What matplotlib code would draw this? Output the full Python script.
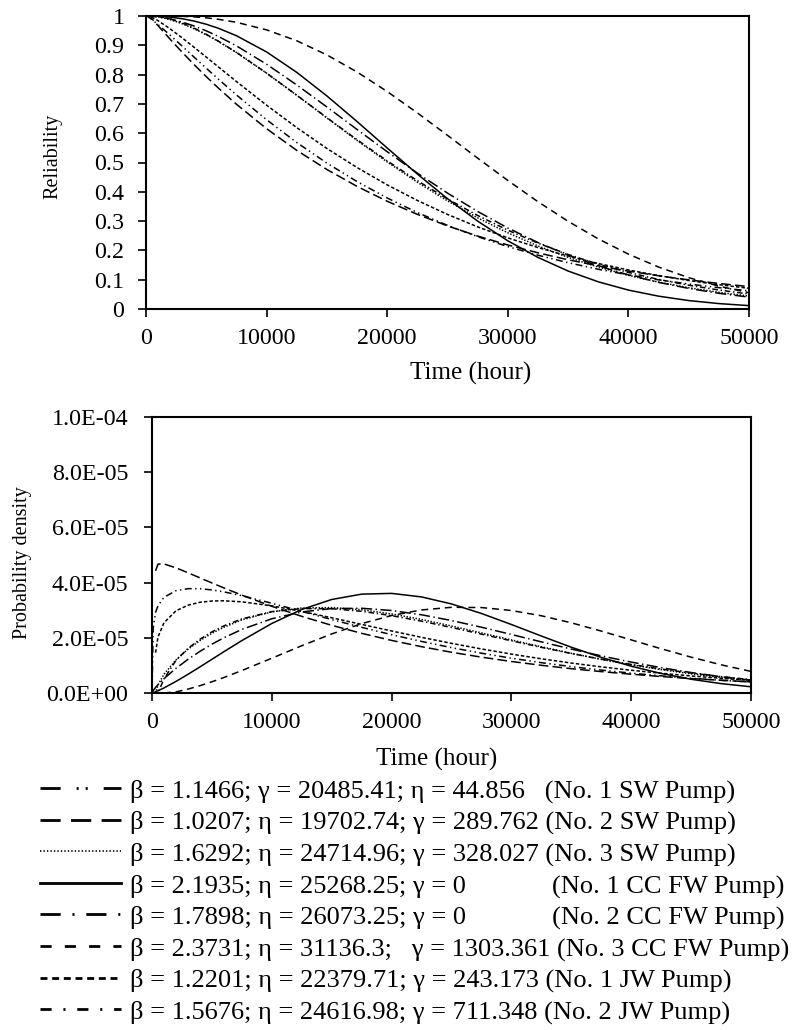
import numpy as np
import matplotlib
matplotlib.use("Agg")
import matplotlib.pyplot as plt
from matplotlib.lines import Line2D

plt.rcParams['font.family'] = ['Liberation Serif', 'DejaVu Serif']
plt.rcParams['lines.scale_dashes'] = False

# time grid (hour)
hours = [0, 100, 300, 500, 1000, 2000, 3000, 4000, 5000, 6000, 7500, 10000, 12500, 15000,
         17500, 20000, 22500, 25000, 27500, 30000, 32500, 35000, 37500, 40000, 42500,
         45000, 47500, 50000]

# reliability
rel_sw1 = [1, 0.9989, 0.9935, 0.9874, 0.9707, 0.9346, 0.8971, 0.8592, 0.8216, 0.7846, 0.7306,
           0.6459, 0.5682, 0.4980, 0.4350, 0.3789, 0.3292, 0.2854, 0.2468, 0.2131, 0.1836,
           0.1580, 0.1357, 0.1164, 0.0996, 0.0852, 0.0728, 0.0621]
rel_sw2 = [1, 1, 0.9996, 0.9903, 0.9669, 0.9208, 0.8763, 0.8337, 0.7929, 0.7540, 0.6988,
           0.6153, 0.5414, 0.4761, 0.4185, 0.3677, 0.3230, 0.2836, 0.2490, 0.2185, 0.1918,
           0.1679, 0.1475, 0.1294, 0.1134, 0.0995, 0.0872, 0.0764]
rel_sw3 = [1, 1, 1, 0.9997, 0.9972, 0.9877, 0.9737, 0.9562, 0.9359, 0.9131, 0.8753,
           0.8050, 0.7295, 0.6521, 0.5755, 0.5018, 0.4326, 0.3689, 0.3113, 0.2600, 0.2151,
           0.1762, 0.1431, 0.1151, 0.0918, 0.0726, 0.0569, 0.0442]
rel_cc1 = [1, 1, 0.9999, 0.9998, 0.9992, 0.9962, 0.9907, 0.9826, 0.9718, 0.9582, 0.9327,
           0.8773, 0.8077, 0.7272, 0.6398, 0.5495, 0.4606, 0.3765, 0.3000, 0.2329, 0.1761,
           0.1296, 0.0928, 0.0646, 0.0438, 0.0288, 0.0185, 0.0115]
rel_cc2 = [1, 1, 0.9997, 0.9992, 0.9971, 0.9900, 0.9794, 0.9657, 0.9493, 0.9304, 0.8981,
           0.8353, 0.7647, 0.6895, 0.6127, 0.5368, 0.4639, 0.3955, 0.3329, 0.2765, 0.2269,
           0.1838, 0.1471, 0.1164, 0.0909, 0.0702, 0.0536, 0.0405]
rel_cc3 = [1, 1, 1, 1, 1, 0.9999, 0.9990, 0.9970, 0.9937, 0.9888, 0.9785,
           0.9527, 0.9155, 0.8672, 0.8089, 0.7422, 0.6693, 0.5927, 0.5149, 0.4387, 0.3662,
           0.2993, 0.2394, 0.1873, 0.1432, 0.1070, 0.0780, 0.0556]
rel_jw1 = [1, 1, 0.9993, 0.9957, 0.9841, 0.9562, 0.9253, 0.8928, 0.8597, 0.8263, 0.7764,
           0.6955, 0.6190, 0.5479, 0.4828, 0.4236, 0.3704, 0.3227, 0.2803, 0.2428, 0.2097,
           0.1807, 0.1553, 0.1332, 0.1140, 0.0973, 0.0830, 0.0706]
rel_jw2 = [1, 1, 1, 1, 0.9991, 0.9902, 0.9761, 0.9583, 0.9374, 0.9142, 0.8757,
           0.8049, 0.7296, 0.6530, 0.5776, 0.5055, 0.4379, 0.3756, 0.3193, 0.2690, 0.2247,
           0.1862, 0.1530, 0.1248, 0.1010, 0.0812, 0.0648, 0.0513]

# probability density, in units of 1E-05
nan = float('nan')
pdf_sw1 = [0, 2.348, 2.923, 3.163, 3.467, 3.707, 3.780, 3.779, 3.735, 3.664, 3.526,
           3.252, 2.957, 2.662, 2.379, 2.113, 1.868, 1.644, 1.442, 1.261, 1.099,
           0.956, 0.830, 0.718, 0.621, 0.535, 0.461, 0.396]
pdf_sw2 = [nan, nan, 4.428, 4.670, 4.676, 4.535, 4.357, 4.172, 3.988, 3.807, 3.546,
           3.141, 2.777, 2.452, 2.162, 1.905, 1.678, 1.476, 1.299, 1.142, 1.004,
           0.881, 0.775, 0.680, 0.597, 0.524, 0.460, 0.403]
pdf_sw3 = [0, 0, 0, 0.289, 0.680, 1.196, 1.583, 1.899, 2.163, 2.384, 2.649,
           2.941, 3.080, 3.096, 3.017, 2.866, 2.664, 2.429, 2.178, 1.923, 1.674,
           1.438, 1.219, 1.022, 0.847, 0.694, 0.564, 0.452]
pdf_cc1 = [0, 0.012, 0.044, 0.081, 0.184, 0.419, 0.676, 0.945, 1.220, 1.496, 1.899,
           2.519, 3.027, 3.388, 3.582, 3.609, 3.481, 3.227, 2.881, 2.482, 2.064,
           1.659, 1.290, 0.971, 0.707, 0.498, 0.340, 0.225]
pdf_cc2 = [0, 0.085, 0.202, 0.302, 0.521, 0.894, 1.218, 1.508, 1.768, 2.001, 2.304,
           2.690, 2.937, 3.059, 3.070, 2.989, 2.834, 2.626, 2.383, 2.121, 1.853,
           1.592, 1.346, 1.120, 0.918, 0.742, 0.591, 0.465]
pdf_cc3 = [0, 0, 0, 0, 0, 0.041, 0.140, 0.264, 0.406, 0.561, 0.813,
           1.260, 1.713, 2.140, 2.513, 2.808, 3.009, 3.105, 3.096, 2.989, 2.798,
           2.543, 2.244, 1.924, 1.603, 1.299, 1.022, 0.783]
pdf_jw1 = [nan, nan, 1.462, 2.031, 2.546, 2.977, 3.181, 3.287, 3.333, 3.341, 3.304,
           3.158, 2.956, 2.726, 2.486, 2.247, 2.017, 1.799, 1.596, 1.409, 1.239,
           1.085, 0.947, 0.824, 0.715, 0.618, 0.533, 0.459]
pdf_jw2 = [0, 0, 0, 0, 0.510, 1.182, 1.614, 1.947, 2.214, 2.432, 2.684,
           2.948, 3.059, 3.053, 2.960, 2.803, 2.602, 2.374, 2.133, 1.891, 1.654,
           1.431, 1.224, 1.036, 0.869, 0.722, 0.594, 0.485]

labels = [
    "β = 1.1466; γ = 20485.41; η = 44.856   (No. 1 SW Pump)",
    "β = 1.0207; η = 19702.74; γ = 289.762 (No. 2 SW Pump)",
    "β = 1.6292; η = 24714.96; γ = 328.027 (No. 3 SW Pump)",
    "β = 2.1935; η = 25268.25; γ = 0             (No. 1 CC FW Pump)",
    "β = 1.7898; η = 26073.25; γ = 0             (No. 2 CC FW Pump)",
    "β = 2.3731; η = 31136.3;   γ = 1303.361 (No. 3 CC FW Pump)",
    "β = 1.2201; η = 22379.71; γ = 243.173 (No. 1 JW Pump)",
    "β = 1.5676; η = 24616.98; γ = 711.348 (No. 2 JW Pump)",
]
rel_ticklabels = ['0', '0.1', '0.2', '0.3', '0.4', '0.5', '0.6', '0.7', '0.8', '0.9', '1']
pdf_ticklabels = ['0.0E+00', '2.0E-05', '4.0E-05', '6.0E-05', '8.0E-05', '1.0E-04']
time_ticks = [0, 10000, 20000, 30000, 40000, 50000]

rel_data = [rel_sw1, rel_sw2, rel_sw3, rel_cc1, rel_cc2, rel_cc3, rel_jw1, rel_jw2]
pdf_data = [pdf_sw1, pdf_sw2, pdf_sw3, pdf_cc1, pdf_cc2, pdf_cc3, pdf_jw1, pdf_jw2]

# line styles in the plots (points) and in the legend samples
plot_styles = [(0, (5, 2.5, 1, 2.5, 1, 2.5)), (0, (7, 3)), (0, (1, 1.2)), '-',
               (0, (8, 2.5, 1, 2.5)), (0, (5, 3.5)), (0, (2.5, 1.5)), (0, (4, 2, 1, 2))]
legend_styles = [(0, (14.5, 11.5, 1.5, 5, 1.5, 11.5)), (0, (14.5, 7.5)), (0, (1, 1.5)), '-',
                 (0, (14.5, 8.5, 1.5, 8.5)), (0, (8, 9.5)), (0, (5, 3.4)), (0, (8, 8.5, 1.5, 8.5))]

t = np.array(hours)

fig = plt.figure(figsize=(7.94, 10.30), dpi=100)
ax1 = fig.add_axes([146/794, 1-309/1030, 603/794, 293/1030])
ax2 = fig.add_axes([152/794, 1-693/1030, 599/794, 276/1030])

for r, ls in zip(rel_data, plot_styles):
    ax1.plot(t, r, color='black', lw=1.1, linestyle=ls)
for p, ls in zip(pdf_data, plot_styles):
    ax2.plot(t, np.array(p) * 1e-5, color='black', lw=1.1, linestyle=ls)

ax1.set_xlim(0, 50000)
ax1.set_ylim(0, 1)
ax1.set_yticks(np.linspace(0, 1, 11))
ax1.set_yticklabels(rel_ticklabels)
ax2.set_xlim(0, 50000)
ax2.set_ylim(0, 1e-4)
ax2.set_yticks(np.linspace(0, 1e-4, 6))
ax2.set_yticklabels(pdf_ticklabels)

for ax, ypad in [(ax1, 10), (ax2, 11.5)]:
    ax.set_xticks(time_ticks)
    ax.set_xticklabels([str(v) for v in time_ticks])
    for s in ax.spines.values():
        s.set_linewidth(1.5)
    ax.tick_params(axis='both', direction='out', length=5.5, width=1.2, labelsize=17.3,
                   top=False, right=False)
    ax.tick_params(axis='y', pad=ypad)
    ax.tick_params(axis='x', pad=8.5)
    ax.set_xlabel('Time (hour)', fontsize=18)

ax1.set_ylabel('Reliability', fontsize=14.5)
ax2.set_ylabel('Probability density', fontsize=14.5)
ax1.yaxis.set_label_coords(-0.138, 0.52)
ax1.xaxis.set_label_coords(0.539, -0.181)
ax2.yaxis.set_label_coords(-0.200, 0.473)
ax2.xaxis.set_label_coords(0.476, -0.199)

handles = []
for ls in legend_styles:
    lw = 1.2 if ls == (0, (1, 1.5)) else 2.0
    handles.append(Line2D([], [], color='black', lw=lw, linestyle=ls))
fig.legend(handles, labels, loc='upper left', bbox_to_anchor=(39.5/794, 1-779/1030),
           frameon=False, fontsize=19, handlelength=3.1, handletextpad=0.34,
           labelspacing=0.29, borderpad=0, borderaxespad=0)

fig.savefig('out.png', dpi=100)
